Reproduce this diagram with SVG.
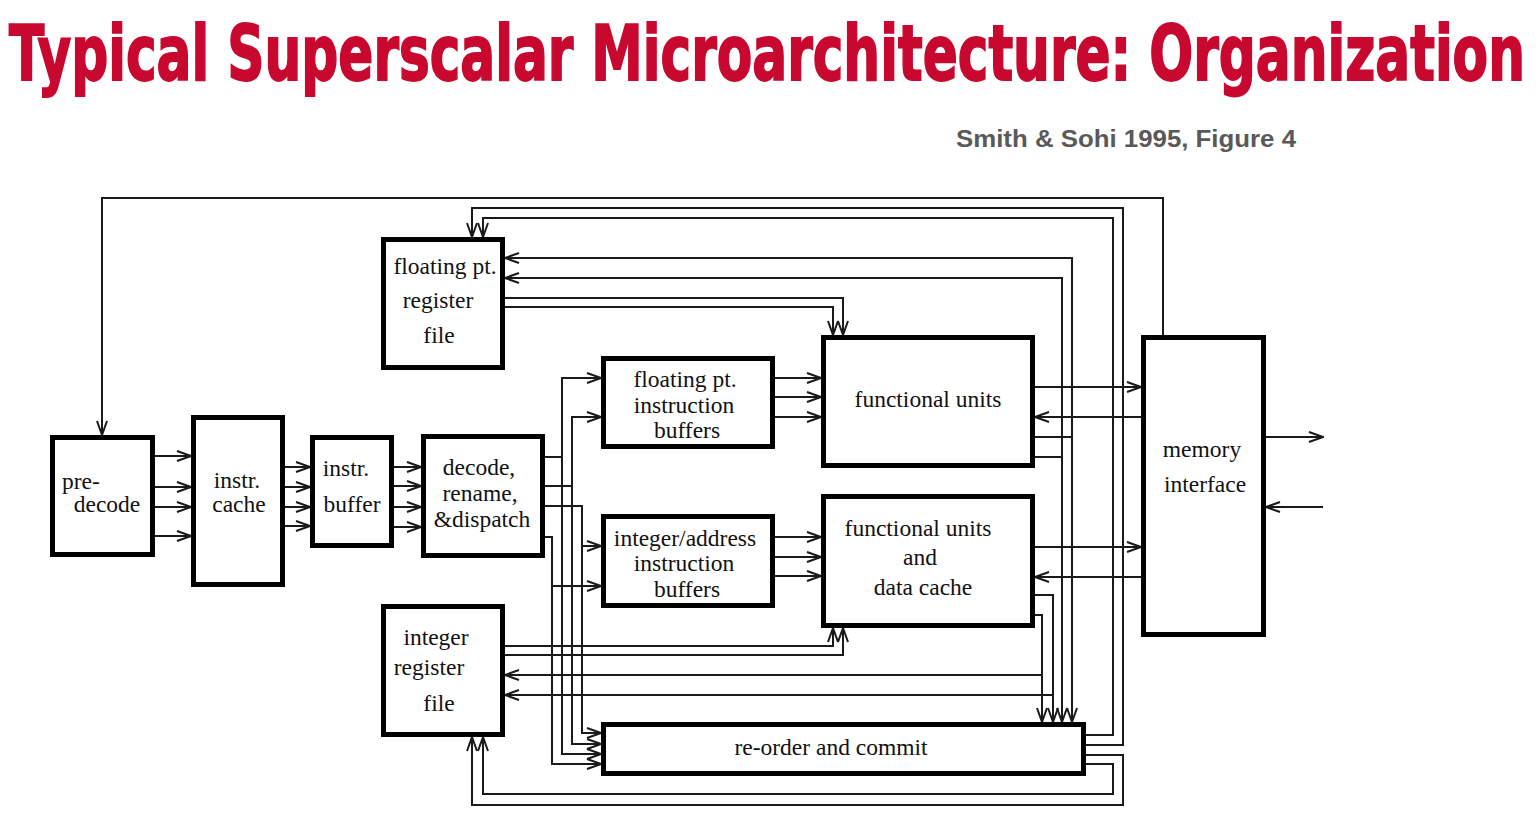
<svg xmlns="http://www.w3.org/2000/svg" width="1539" height="824" viewBox="0 0 1539 824">
<defs>
<style>
.box{fill:#fff;stroke:#000;stroke-width:5}
.ln{fill:none;stroke:#1a1a1a;stroke-width:2}
.t{font-family:"Liberation Serif","Times New Roman",serif;font-size:23.5px;fill:#111;text-anchor:middle}
.title{font-family:"Liberation Sans Narrow","DejaVu Sans Condensed","Roboto Condensed","Liberation Sans",sans-serif;font-weight:bold;font-size:52px;fill:#c8082f;stroke:#c8082f;stroke-width:1.2}
.sub{font-family:"Liberation Sans",Arial,sans-serif;font-weight:bold;font-size:24px;fill:#595959}
</style>
<marker id="ah" viewBox="0 0 16 12" markerWidth="16" markerHeight="12" refX="15" refY="6" orient="auto" markerUnits="userSpaceOnUse">
<path d="M1,1 L15,6 L1,11" fill="none" stroke="#1a1a1a" stroke-width="2"/>
</marker>
</defs>
<rect width="1539" height="824" fill="#fff"/>
<g id="title" transform="translate(9,80) scale(1,1.46)">
<text class="title" x="0" y="0" textLength="1516" lengthAdjust="spacingAndGlyphs">Typical Superscalar Microarchitecture: Organization</text>
</g>
<text class="sub" x="956" y="147" textLength="340" lengthAdjust="spacingAndGlyphs">Smith &amp; Sohi 1995, Figure 4</text>

<g id="connectors">
<path class="ln" d="M1163,335 V198 H102 V435" marker-end="url(#ah)"/>
<path class="ln" d="M155,456 H191" marker-end="url(#ah)"/>
<path class="ln" d="M155,487 H191" marker-end="url(#ah)"/>
<path class="ln" d="M155,507 H191" marker-end="url(#ah)"/>
<path class="ln" d="M155,536 H191" marker-end="url(#ah)"/>
<path class="ln" d="M285,467 H310" marker-end="url(#ah)"/>
<path class="ln" d="M285,487 H310" marker-end="url(#ah)"/>
<path class="ln" d="M285,507 H310" marker-end="url(#ah)"/>
<path class="ln" d="M285,526 H310" marker-end="url(#ah)"/>
<path class="ln" d="M394,467 H421" marker-end="url(#ah)"/>
<path class="ln" d="M394,486 H421" marker-end="url(#ah)"/>
<path class="ln" d="M394,507 H421" marker-end="url(#ah)"/>
<path class="ln" d="M394,527 H421" marker-end="url(#ah)"/>
<path class="ln" d="M545,457 H562 V378 H601" marker-end="url(#ah)"/>
<path class="ln" d="M562,378 V754 H601" marker-end="url(#ah)"/>
<path class="ln" d="M545,486 H572 V417 H601" marker-end="url(#ah)"/>
<path class="ln" d="M572,417 V744 H601" marker-end="url(#ah)"/>
<path class="ln" d="M545,506 H582 V546 H601" marker-end="url(#ah)"/>
<path class="ln" d="M582,546 V733 H601" marker-end="url(#ah)"/>
<path class="ln" d="M545,537 H552 V586 H601" marker-end="url(#ah)"/>
<path class="ln" d="M552,586 V764 H601" marker-end="url(#ah)"/>
<path class="ln" d="M775,378 H821" marker-end="url(#ah)"/>
<path class="ln" d="M775,397 H821" marker-end="url(#ah)"/>
<path class="ln" d="M775,417 H821" marker-end="url(#ah)"/>
<path class="ln" d="M775,537 H821" marker-end="url(#ah)"/>
<path class="ln" d="M775,557 H821" marker-end="url(#ah)"/>
<path class="ln" d="M775,576 H821" marker-end="url(#ah)"/>
<path class="ln" d="M505,298 H843 V335" marker-end="url(#ah)"/>
<path class="ln" d="M505,307 H833 V335" marker-end="url(#ah)"/>
<path class="ln" d="M505,646 H833 V628" marker-end="url(#ah)"/>
<path class="ln" d="M505,655 H843 V628" marker-end="url(#ah)"/>
<path class="ln" d="M1035,387 H1141" marker-end="url(#ah)"/>
<path class="ln" d="M1141,417 H1035" marker-end="url(#ah)"/>
<path class="ln" d="M1035,547 H1141" marker-end="url(#ah)"/>
<path class="ln" d="M1141,577 H1035" marker-end="url(#ah)"/>
<path class="ln" d="M1266,437 H1323" marker-end="url(#ah)"/>
<path class="ln" d="M1323,507 H1266" marker-end="url(#ah)"/>
<path class="ln" d="M1035,437 H1072 V258 H505" marker-end="url(#ah)"/>
<path class="ln" d="M1072,437 V722" marker-end="url(#ah)"/>
<path class="ln" d="M1035,457 H1062 V278 H505" marker-end="url(#ah)"/>
<path class="ln" d="M1062,457 V722" marker-end="url(#ah)"/>
<path class="ln" d="M1035,595 H1053 V722" marker-end="url(#ah)"/>
<path class="ln" d="M1053,695 H505" marker-end="url(#ah)"/>
<path class="ln" d="M1035,615 H1042 V722" marker-end="url(#ah)"/>
<path class="ln" d="M1042,675 H505" marker-end="url(#ah)"/>
<path class="ln" d="M1086,735 H1113 V218 H483 V237" marker-end="url(#ah)"/>
<path class="ln" d="M1086,745 H1123 V208 H472 V237" marker-end="url(#ah)"/>
<path class="ln" d="M1086,755 H1123 V805 H472 V737" marker-end="url(#ah)"/>
<path class="ln" d="M1086,764 H1113 V794 H483 V737" marker-end="url(#ah)"/>
</g>

<g id="predecode">
<rect class="box" x="52.5" y="437.5" width="100" height="117"/>
<text class="t" x="62" y="489" style="text-anchor:start">pre-</text>
<text class="t" x="107" y="512">decode</text>
</g>
<g id="icache">
<rect class="box" x="193.5" y="417.5" width="89" height="167"/>
<text class="t" x="237" y="488">instr.</text>
<text class="t" x="239" y="512">cache</text>
</g>
<g id="ibuffer">
<rect class="box" x="312.5" y="437.5" width="79" height="108"/>
<text class="t" x="346" y="476">instr.</text>
<text class="t" x="352" y="512">buffer</text>
</g>
<g id="decode">
<rect class="box" x="423.5" y="436.5" width="119" height="119"/>
<text class="t" x="479" y="475">decode,</text>
<text class="t" x="480" y="501">rename,</text>
<text class="t" x="482" y="527">&amp;dispatch</text>
</g>
<g id="fpregfile">
<rect class="box" x="383.5" y="239.5" width="119" height="128"/>
<text class="t" x="445" y="274">floating pt.</text>
<text class="t" x="438" y="308">register</text>
<text class="t" x="439" y="343">file</text>
</g>
<g id="intregfile">
<rect class="box" x="383.5" y="606.5" width="119" height="128"/>
<text class="t" x="436" y="645">integer</text>
<text class="t" x="429" y="675">register</text>
<text class="t" x="439" y="711">file</text>
</g>
<g id="fpibuf">
<rect class="box" x="603.5" y="358.5" width="169" height="88"/>
<text class="t" x="685" y="387">floating pt.</text>
<text class="t" x="684" y="413">instruction</text>
<text class="t" x="687" y="438">buffers</text>
</g>
<g id="intibuf">
<rect class="box" x="603.5" y="516.5" width="169" height="89"/>
<text class="t" x="685" y="546">integer/address</text>
<text class="t" x="684" y="571">instruction</text>
<text class="t" x="687" y="597">buffers</text>
</g>
<g id="fpfu">
<rect class="box" x="823.5" y="337.5" width="209" height="128"/>
<text class="t" x="928" y="407">functional units</text>
</g>
<g id="intfu">
<rect class="box" x="823.5" y="496.5" width="209" height="129"/>
<text class="t" x="918" y="536">functional units</text>
<text class="t" x="920" y="565">and</text>
<text class="t" x="923" y="595">data cache</text>
</g>
<g id="memory">
<rect class="box" x="1143.5" y="337.5" width="120" height="297"/>
<text class="t" x="1202" y="457">memory</text>
<text class="t" x="1205" y="492">interface</text>
</g>
<g id="reorder">
<rect class="box" x="603.5" y="724.5" width="480" height="49"/>
<text class="t" x="831" y="755">re-order and commit</text>
</g>
</svg>
